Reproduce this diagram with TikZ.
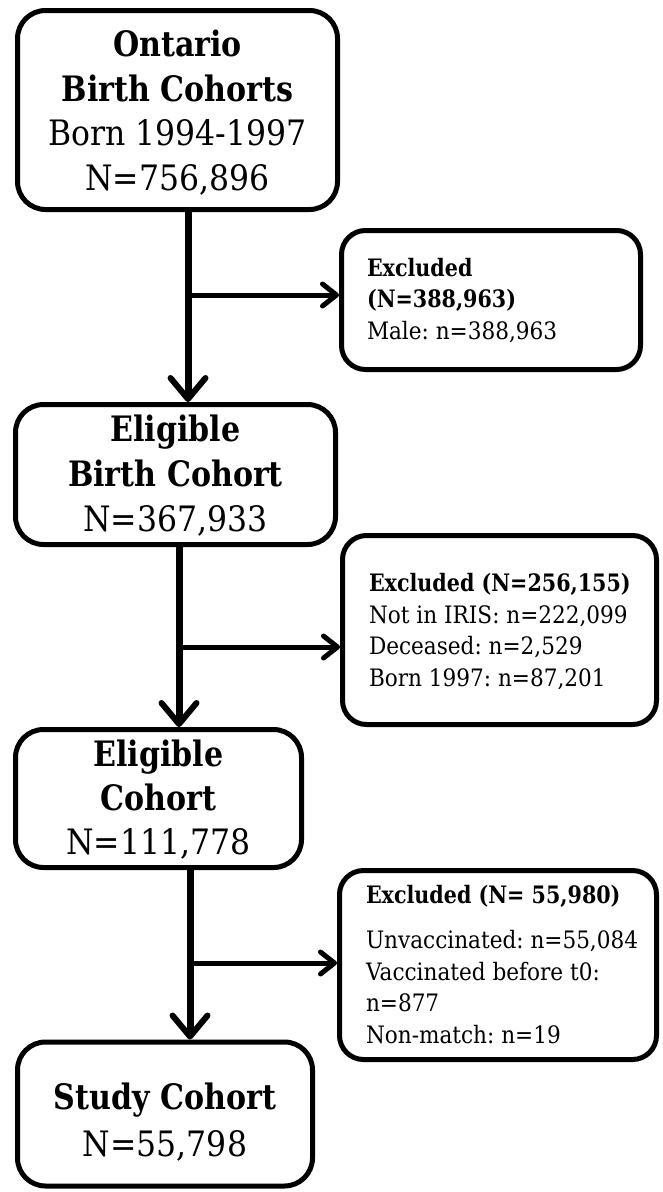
\documentclass[tikz,border=0pt]{standalone}
\usepackage{fontspec}
\setmainfont{DejaVu Serif}[FakeStretch=0.90, BoldFeatures={FakeStretch=0.86}]
\usetikzlibrary{arrows.meta}
\frenchspacing
% #1 baselineskip, #2 vertical shift, #3 lines
\newcommand{\btext}[3]{\fontsize{35}{#1}\selectfont\raisebox{#2}[\height][\depth]{\begin{tabular}{@{}c@{}}#3\end{tabular}}}
% #1 nominal width (sets left edge), #2 vertical shift, #3 lines
\newcommand{\etext}[3]{\fontsize{24}{31.5}\selectfont\raisebox{#2}[\height][\depth]{\makebox[#1][l]{\begin{tabular}{@{}l@{}}#3\end{tabular}}}}
\tikzset{
  mainbox/.style={draw, line width=5pt, rounded corners=28pt, align=center, inner sep=0pt},
  exclbox/.style={draw, line width=5pt, rounded corners=24pt, inner sep=0pt},
  vline/.style={line width=7pt, -{Straight Barb[length=21pt,width=35pt,line width=6pt,round]}},
  hline/.style={line width=5pt, -{Straight Barb[length=14pt,width=22pt,line width=5pt,round]}}
}
\begin{document}
\begin{tikzpicture}[x=1pt,y=-1pt]
\useasboundingbox (0,0) rectangle (662,1192);
\fill[white] (0,0) rectangle (662,1192);

% main boxes
\node[mainbox, minimum width=320pt, minimum height=199pt] (b1) at (177.5,110)
  {\btext{44.5pt}{-4.5pt}{\textbf{Ontario}\\\textbf{Birth Cohorts}\\Born 1994-1997\\N=756,896}};
\node[mainbox, minimum width=320pt, minimum height=140pt] (b2) at (175.5,474.5)
  {\btext{45pt}{-3pt}{\textbf{Eligible}\\\textbf{Birth Cohort}\\N=367,933}};
\node[mainbox, minimum width=286pt, minimum height=138pt] (b3) at (158.5,798.5)
  {\btext{44pt}{-3pt}{\textbf{Eligible}\\\textbf{Cohort}\\N=111,778}};
\node[mainbox, minimum width=295pt, minimum height=144pt] (b4) at (165,1114)
  {\btext{47pt}{-10pt}{\textbf{Study Cohort}\\N=55,798}};

% exclusion boxes
\node[exclbox, minimum width=299pt, minimum height=139pt] (e1) at (491,300)
  {\etext{248pt}{-1.5pt}{\textbf{Excluded}\\\textbf{(N=388,963)}\\Male: n=388,963}};
\node[exclbox, minimum width=314pt, minimum height=189pt] (e2) at (499.5,630)
  {\etext{261pt}{-2.5pt}{\textbf{Excluded (N=256,155)}\\Not in IRIS: n=222,099\\Deceased: n=2,529\\Born 1997: n=87,201}};
\node[exclbox, minimum width=317pt, minimum height=189pt] (e3) at (498,965)
  {\etext{264pt}{-2pt}{\textbf{Excluded (N= 55,980)}\\[14pt]Unvaccinated: n=55,084\\Vaccinated before t0:\\n=877\\Non-match: n=19}};

% connector positions
\coordinate (v1) at (188,0);
\coordinate (v2) at (179,0);
\coordinate (v3) at (190,0);
\coordinate (h1) at (0,295);
\coordinate (h2) at (0,647);
\coordinate (h3) at (0,963);

\draw[vline] (b1.south -| v1) -- (b2.north -| v1);
\draw[vline] (b2.south -| v2) -- (b3.north -| v2);
\draw[vline] (b3.south -| v3) -- (b4.north -| v3);

\draw[hline] (v1 |- h1) -- (e1.west |- h1);
\draw[hline] (v2 |- h2) -- (e2.west |- h2);
\draw[hline] (v3 |- h3) -- (e3.west |- h3);
\end{tikzpicture}
\end{document}
